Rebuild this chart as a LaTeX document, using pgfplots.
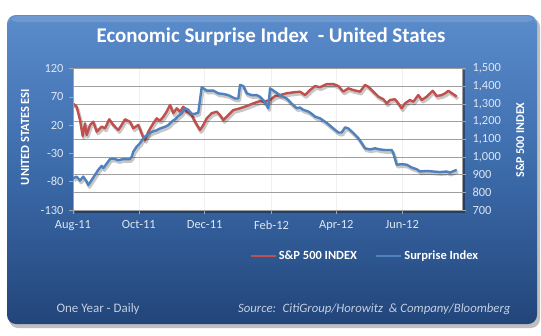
\documentclass[border=0pt]{standalone}
\usepackage{pgfplots}
\pgfplotsset{compat=1.18}
\usepackage{pgfplotstable}
\usepackage{fontspec}
\setmainfont{Carlito}
\definecolor{spred}{HTML}{C0504D}
\definecolor{esiblue}{HTML}{4F81BD}
\definecolor{paneltop}{HTML}{5A8BCB}
\definecolor{panelmid}{HTML}{3C6BAA}
\definecolor{panelbot}{HTML}{22457A}
\definecolor{ticktxt}{HTML}{DCE6F2}
\definecolor{foot}{HTML}{C3CFE0}

\pgfplotstableread{
d v
0 1303
3.4 1284
6.5 1209
9.0 1118
11.1 1190
12.7 1124
15.8 1181
18.8 1199
22.0 1143
26.6 1171
29.7 1162
33.6 1213
37.3 1181
42.0 1152
45.1 1181
48.2 1213
52.8 1199
55.9 1162
60.5 1181
64.6 1118
66.7 1096
69.8 1143
74.4 1190
77.6 1218
80.6 1205
83.7 1227
86.8 1256
89.9 1294
93.0 1247
96.1 1275
99.2 1256
102.2 1284
105.4 1256
110.0 1237
113.1 1199
117.7 1152
120.8 1181
123.9 1218
128.5 1247
133.2 1256
136.2 1237
139.3 1209
142.4 1227
148.6 1265
154.8 1275
161.0 1288
167.1 1303
173.3 1316
176.4 1312
182.6 1322
187.2 1344
191.8 1350
198.0 1360
204.2 1365
210.4 1369
215.0 1350
219.7 1378
224.3 1401
228.9 1394
235.1 1412
241.3 1412
245.9 1401
250.5 1369
255.2 1388
259.8 1378
266.0 1369
270.6 1407
273.7 1397
278.3 1369
283.0 1341
287.6 1326
290.8 1303
293.8 1322
298.4 1326
301.5 1303
304.6 1275
307.7 1303
312.3 1322
315.4 1312
320.0 1350
323.2 1322
327.8 1341
333.4 1374
337.1 1344
341.7 1350
344.9 1360
347.9 1374
351.1 1360
355.7 1341
}\spx

\pgfplotstableread{
d v
0 -74
3.4 -71
6.5 -78
9.5 -71
12.7 -80
14.2 -86
17.3 -77
20.4 -68
23.4 -59
26.6 -52
28.1 -56
31.2 -48
34.3 -40
37.3 -39
42.0 -42
46.6 -40
52.8 -40
54.4 -36
55.9 -27
59.0 -18
62.1 -12
65.2 -3
68.3 2
72.9 8
77.6 11
80.6 14
85.3 17
88.3 20
91.4 26
94.5 30
97.5 36
100.7 41
103.8 50
106.8 47
110.0 40
113.1 40
116.1 42
119.3 87
123.9 81
130.0 81
134.7 76
139.3 75
143.9 73
150.1 67
153.2 67
154.8 91
157.8 89
161.0 76
165.6 73
170.3 73
173.3 70
177.9 61
181.0 50
182.6 85
187.2 79
191.8 73
198.0 67
202.6 58
207.3 50
210.4 51
213.4 47
218.1 44
221.2 40
224.3 35
228.9 32
235.1 24
241.3 14
245.9 7
249.0 7
252.1 16
255.2 14
259.8 6
264.4 -3
267.6 -12
270.6 -21
275.3 -23
279.9 -21
284.5 -23
289.2 -24
295.4 -24
296.9 -30
300.0 -50
304.6 -49
309.3 -50
313.9 -55
318.5 -58
321.6 -62
327.8 -61
334.0 -62
340.1 -63
346.3 -62
349.4 -64
355.6 -59
}\esi

\begin{document}
\begin{tikzpicture}
% canvas
\path[fill=white] (0bp,0bp) rectangle (541bp,-336bp);
% panel shadow
\fill[black, opacity=0.25, rounded corners=9bp] (9bp,-18bp) rectangle (540bp,-328bp);
% panel
\shade[rounded corners=9bp, top color=paneltop, bottom color=panelbot, middle color=panelmid]
  (7bp,-15bp) rectangle (537bp,-324bp);
\fill[white, opacity=0.12, rounded corners=9bp] (8bp,-16bp) rectangle (536bp,-22bp);
% title
\node[text=white, font=\fontsize{21}{24}\selectfont\bfseries] at (271bp,-37bp)
  {Economic Surprise Index \ - United States};
% plot shadow
\fill[black, opacity=0.35] (75bp,-70bp) rectangle (465bp,-213bp);

\begin{axis}[
  at={(73bp,-210bp)}, anchor=south west,
  scale only axis, width=389bp, height=141.5bp,
  xmin=0, xmax=360.5,
  ymin=700, ymax=1500,
  ytick={700,800,...,1500},
  axis y line*=right,
  axis x line*=bottom,
  axis background/.style={fill=white},
  xtick={0,61,122,184,244,305},
  xticklabels={Aug-11,Oct-11,Dec-11,Feb-12,Apr-12,Jun-12},
  xticklabel style={text=ticktxt, font=\fontsize{12.5}{14}\selectfont, yshift=-3bp},
  yticklabel style={text=ticktxt, font=\fontsize{12.5}{14}\selectfont, xshift=3bp},
  /pgf/number format/assume math mode=true,
  /pgf/number format/1000 sep={,},
  ymajorgrids, xmajorgrids,
  major grid style={gray!75, line width=0.6bp},
  x grid style={gray!12},
  tick style={gray!70, line width=0.6bp},
  major tick length=4bp,
  tick align=outside,
  axis line style={gray!75, line width=0.8bp},
  ylabel={S\&P 500 INDEX},
  ylabel style={text=white, font=\fontsize{12}{14}\selectfont\bfseries,
    at={(axis description cs:1.149,0.495)}, anchor=center},
  clip=true,
]
\addplot[black, opacity=0.22, line width=3.2bp, line join=round, xshift=1.2bp, yshift=-2.2bp] table[x=d,y=v] {\spx};
\addplot[spred, line width=2.4bp, line join=round] table[x=d,y=v] {\spx};
\end{axis}

\begin{axis}[
  at={(73bp,-210bp)}, anchor=south west,
  scale only axis, width=389bp, height=141.5bp,
  xmin=0, xmax=360.5,
  ymin=-130, ymax=120,
  ytick={-130,-80,...,120},
  axis y line*=left,
  axis x line=none,
  yticklabel style={text=ticktxt, font=\fontsize{12.5}{14}\selectfont, xshift=-2bp},
  /pgf/number format/assume math mode=true,
  tick style={gray!70, line width=0.6bp},
  major tick length=4bp,
  tick align=outside,
  axis line style={gray!75, line width=0.8bp},
  ylabel={UNITED STATES ESI},
  ylabel style={text=white, font=\fontsize{12.5}{14}\selectfont\bfseries,
    at={(axis description cs:-0.123,0.516)}, anchor=center},
  legend columns=2,
  legend style={at={(axis description cs:0.75,-0.325)}, anchor=center,
    draw=none, fill=none, text=white, font=\fontsize{12.5}{14}\selectfont\bfseries,
    /tikz/every even column/.append style={column sep=16bp}},
  legend image code/.code={\draw[#1] (0bp,0bp) -- (25bp,0bp);},
  clip=true,
]
\addlegendimage{spred, line width=2.4bp}
\addlegendentry{S\&P 500 INDEX}
\addplot[black, opacity=0.22, line width=3.2bp, line join=round, xshift=1.2bp, yshift=-2.2bp, forget plot] table[x=d,y=v] {\esi};
\addplot[esiblue, line width=2.4bp, line join=round] table[x=d,y=v] {\esi};
\addlegendentry{Surprise Index}
\end{axis}

% footer
\node[anchor=west, text=foot, font=\fontsize{13}{15}\selectfont] at (53bp,-309bp) {One Year - Daily};
\node[anchor=east, text=foot, font=\fontsize{12.8}{15}\selectfont\itshape] at (514bp,-309bp)
  {Source: \ CitiGroup/Horowitz \ \& Company/Bloomberg};
\end{tikzpicture}
\end{document}
